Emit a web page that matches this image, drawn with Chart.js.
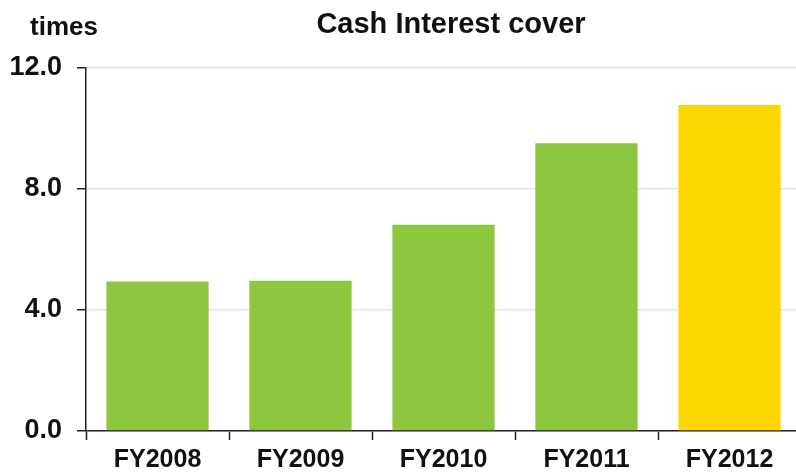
<!DOCTYPE html>
<html>
<head>
<meta charset="utf-8">
<script src="https://cdn.jsdelivr.net/npm/chart.js@4"></script>
<style>
  body { margin: 0; background: #fff; overflow: hidden; }
  #wrap { width: 806px; height: 474px; position: relative; }
</style>
</head>
<body>
<div id="wrap"><canvas id="coverChart"></canvas></div>
<script>
const years = ['FY2008', 'FY2009', 'FY2010', 'FY2011', 'FY2012'];
const cover = [4.94, 4.97, 6.82, 9.51, 10.78];
const barColors = ['#8DC63F', '#8DC63F', '#8DC63F', '#8DC63F', '#FFD700'];
const yTicks = [0, 4, 8, 12];

// title and unit label drawn by hand so they sit where the original has them
const headings = {
  id: 'headings',
  afterDraw(chart) {
    const ctx = chart.ctx;
    ctx.save();
    ctx.fillStyle = '#111';
    ctx.textBaseline = 'alphabetic';
    ctx.font = 'bold 26px "Liberation Sans", Arial, sans-serif';
    ctx.textAlign = 'left';
    ctx.fillText('times', 30, 35);
    ctx.font = 'bold 29px "Liberation Sans", Arial, sans-serif';
    ctx.textAlign = 'center';
    ctx.fillText('Cash Interest cover', 451, 33);
    ctx.restore();
  }
};

new Chart(document.getElementById('coverChart'), {
  type: 'bar',
  data: {
    labels: years,
    datasets: [{
      data: cover,
      backgroundColor: barColors,
      categoryPercentage: 1,
      barPercentage: 0.715
    }]
  },
  options: {
    responsive: true,
    maintainAspectRatio: false,
    animation: false,
    layout: { padding: { top: 68, right: 5, left: 0, bottom: 0 } },
    plugins: {
      legend: { display: false },
      tooltip: { enabled: false }
    },
    scales: {
      x: {
        offset: true,
        grid: {
          offset: true,
          drawOnChartArea: false,
          tickLength: 9,
          tickColor: '#222',
          tickWidth: 1.5
        },
        border: { color: '#222', width: 1.5 },
        ticks: {
          color: '#111',
          padding: 5,
          font: { family: '"Liberation Sans", Arial, sans-serif', size: 25, weight: 'bold' }
        },
        afterFit(scale) { scale.height = 43; }
      },
      y: {
        min: 0,
        max: 12,
        afterBuildTicks(scale) { scale.ticks = yTicks.map(v => ({ value: v })); },
        grid: {
          color: '#e4e4e4',
          lineWidth: 1.5,
          tickLength: 9,
          tickColor: '#222',
          tickWidth: 1.5
        },
        border: { color: '#222', width: 1.5 },
        ticks: {
          color: '#111',
          padding: 15,
          callback: v => v.toFixed(1),
          font: { family: '"Liberation Sans", Arial, sans-serif', size: 27, weight: 'bold' }
        },
        afterFit(scale) { scale.width = 86; }
      }
    }
  },
  plugins: [headings]
});
</script>
</body>
</html>
